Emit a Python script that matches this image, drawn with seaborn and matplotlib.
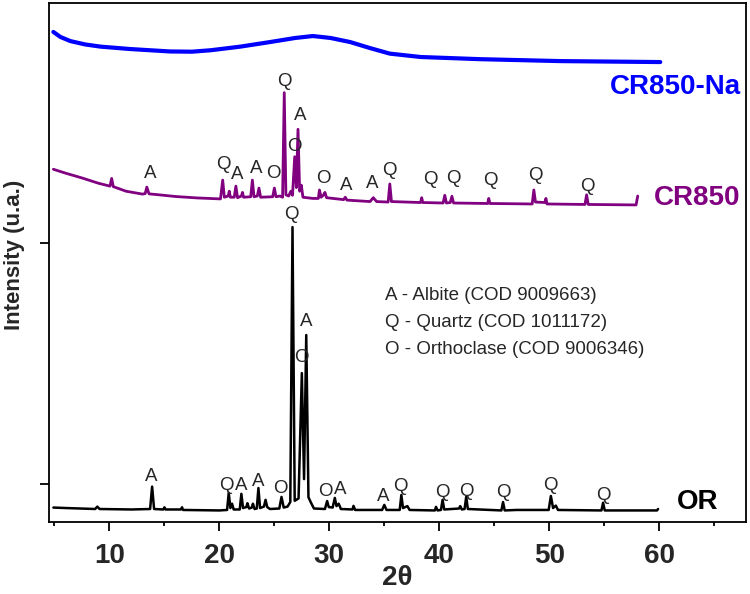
import numpy as np
import pandas as pd
import seaborn as sns
import matplotlib.pyplot as plt

# XRD patterns (2theta, intensity in offset units)
or_theta = [4.9, 6.0, 8.7, 8.9, 9.1, 12.0, 13.7, 13.88, 14.06, 14.9, 15.0, 15.1,
            16.5, 16.6, 16.7, 20.0, 20.7, 20.85, 21.0, 21.15, 21.3, 21.85, 22.0,
            22.15, 22.45, 22.55, 22.7, 22.95, 23.05, 23.2, 23.4, 23.55, 23.7, 24.05,
            24.2, 24.35, 24.6, 25.45, 25.65, 25.85, 26.2, 26.45, 26.65, 26.85, 27.2,
            27.5, 27.7, 27.9, 28.1, 28.3, 28.6, 29.6, 29.8, 29.95, 30.3, 30.5, 30.65,
            30.85, 31.05, 32.1, 32.2, 32.35, 34.8, 35.0, 35.2, 36.4, 36.55, 36.7,
            37.1, 37.3, 39.6, 39.7, 39.85, 40.15, 40.3, 40.45, 41.8, 41.9, 42.05,
            42.3, 42.45, 42.6, 45.65, 45.8, 45.95, 47.0, 49.95, 50.15, 50.35, 50.6,
            50.8, 54.75, 54.9, 55.05, 59.8, 59.9]
or_int = [-0.098, -0.100, -0.104, -0.094, -0.104, -0.106, -0.104, -0.011, -0.104,
          -0.106, -0.097, -0.106, -0.106, -0.097, -0.108, -0.110, -0.108, -0.037,
          -0.100, -0.082, -0.106, -0.106, -0.041, -0.100, -0.096, -0.080, -0.102,
          -0.098, -0.082, -0.104, -0.102, -0.017, -0.100, -0.094, -0.066, -0.096,
          -0.104, -0.102, -0.054, -0.098, -0.094, -0.075, 1.066, -0.070, -0.060,
          0.460, 0.020, 0.618, -0.055, -0.075, -0.102, -0.104, -0.071, -0.096,
          -0.098, -0.058, -0.092, -0.082, -0.104, -0.106, -0.091, -0.108, -0.108,
          -0.087, -0.108, -0.108, -0.046, -0.100, -0.092, -0.108, -0.110, -0.095,
          -0.110, -0.108, -0.066, -0.106, -0.102, -0.092, -0.106, -0.104, -0.054,
          -0.104, -0.110, -0.075, -0.110, -0.108, -0.108, -0.050, -0.100, -0.090,
          -0.108, -0.110, -0.078, -0.110, -0.110, -0.104]

cr_theta = [4.9, 6.0, 7.5, 9.0, 10.05, 10.2, 10.35, 11.5, 13.0, 13.25, 13.4, 13.6,
            14.5, 16.0, 18.0, 20.1, 20.3, 20.45, 20.8, 20.9, 21.0, 21.35, 21.5,
            21.65, 22.0, 22.1, 22.2, 22.85, 23.0, 23.15, 23.45, 23.6, 23.75, 24.85,
            25.0, 25.15, 25.5, 25.75, 25.9, 26.05, 26.3, 26.5, 26.65, 26.85, 27.0,
            27.15, 27.3, 27.45, 27.6, 28.5, 29.0, 29.1, 29.25, 29.45, 29.6, 29.75,
            31.3, 31.45, 31.6, 33.7, 34.0, 34.3, 35.35, 35.5, 35.65, 38.3, 38.4,
            38.5, 40.35, 40.5, 40.65, 41.0, 41.15, 41.3, 44.4, 44.5, 44.6, 48.45,
            48.6, 48.75, 49.6, 49.7, 49.8, 53.25, 53.4, 53.55, 57.9, 58.05]
cr_int = [1.306, 1.290, 1.270, 1.248, 1.236, 1.268, 1.234, 1.215, 1.203, 1.205,
          1.232, 1.204, 1.200, 1.193, 1.187, 1.183, 1.261, 1.190, 1.195, 1.215,
          1.190, 1.190, 1.236, 1.188, 1.195, 1.210, 1.190, 1.192, 1.261, 1.192,
          1.195, 1.228, 1.190, 1.192, 1.228, 1.192, 1.195, 1.190, 1.624, 1.200,
          1.195, 1.215, 1.198, 1.358, 1.230, 1.472, 1.215, 1.240, 1.190, 1.185,
          1.185, 1.220, 1.190, 1.198, 1.210, 1.188, 1.180, 1.190, 1.178, 1.172,
          1.188, 1.172, 1.170, 1.245, 1.172, 1.168, 1.188, 1.168, 1.166, 1.198,
          1.166, 1.168, 1.194, 1.166, 1.164, 1.185, 1.164, 1.162, 1.220, 1.170,
          1.168, 1.185, 1.162, 1.160, 1.200, 1.160, 1.158, 1.195]

na_theta = [4.9, 5.55, 6.45, 7.8, 9.2, 11.9, 15.5, 17.5, 19.2, 21.9, 24.6, 26.9,
            28.5, 30.1, 31.9, 33.7, 35.5, 38.3, 43.7, 51.0, 60.1]
na_int = [1.876, 1.855, 1.838, 1.824, 1.815, 1.805, 1.795, 1.794, 1.800, 1.815,
          1.834, 1.851, 1.859, 1.851, 1.834, 1.809, 1.786, 1.772, 1.763, 1.755,
          1.751]

# phase labels (letter, 2theta, height)
or_lab = ["A", "Q", "A", "A", "O", "Q", "A", "O", "O", "A", "A", "Q", "Q", "Q", "Q", "Q", "Q"]
or_lab_x = [13.82, 20.64, 22.0, 23.55, 25.55, 26.55, 27.9, 27.5, 29.6, 31.0, 34.9,
            36.45, 40.25, 42.45, 45.8, 50.1, 54.9]
or_lab_y = [0.029, -0.008, -0.008, 0.012, -0.017, 1.120, 0.676, 0.523, -0.033,
            -0.025, -0.054, -0.012, -0.037, -0.032, -0.037, -0.008, -0.046]

cr_lab = ["A", "Q", "A", "A", "O", "Q", "A", "O", "O", "A", "A", "Q", "Q", "Q", "Q", "Q", "Q"]
cr_lab_x = [13.73, 20.33, 21.6, 23.36, 24.94, 25.94, 27.36, 26.82, 29.48, 31.55,
            33.88, 35.48, 39.18, 41.3, 44.64, 48.73, 53.43]
cr_lab_y = [1.289, 1.324, 1.286, 1.310, 1.289, 1.669, 1.531, 1.400, 1.268, 1.237,
            1.248, 1.300, 1.264, 1.268, 1.261, 1.279, 1.234]

phases = ["A - Albite (COD 9009663)",
          "Q - Quartz (COD 1011172)",
          "O - Orthoclase (COD 9006346)"]

sns.set_theme(style="ticks")
plt.rcParams["font.family"] = ["Liberation Sans", "DejaVu Sans"]

fig = plt.figure(figsize=(7.5, 5.94), dpi=100)
ax = fig.add_axes([0.0653, 0.1212, 0.9294, 0.8737])

sns.lineplot(x=or_theta, y=or_int, ax=ax, color="black", lw=1.8,
             estimator=None, sort=False)
sns.lineplot(x=cr_theta, y=cr_int, ax=ax, color="#800080", lw=2.0,
             estimator=None, sort=False)
sns.lineplot(x=na_theta, y=na_int, ax=ax, color="#0000ff", lw=3.0,
             estimator=None, sort=False)

for s, x, y in zip(or_lab, or_lab_x, or_lab_y):
    ax.text(x, y, s, ha="center", va="center", fontsize=13.5)
for s, x, y in zip(cr_lab, cr_lab_x, cr_lab_y):
    ax.text(x, y, s, ha="center", va="center", fontsize=13.5)

for i, s in enumerate(phases):
    ax.text(35.1, 0.784 - 0.112 * i, s, ha="left", va="center", fontsize=13.5)

ax.text(67.4, 1.647, "CR850-Na", color="#0000ff", ha="right", va="center",
        fontsize=20, fontweight="bold")
ax.text(67.4, 1.187, "CR850", color="#800080", ha="right", va="center",
        fontsize=20, fontweight="bold")
ax.text(65.4, -0.075, "OR", color="black", ha="right", va="center",
        fontsize=20, fontweight="bold")

ax.set_xlim(4.5, 67.9)
ax.set_ylim(-0.158, 1.996)
ax.set_xticks(range(10, 61, 10))
ax.set_xticks(range(5, 66, 10), minor=True)
ax.set_yticks([0, 1])
ax.set_yticklabels([])
ax.tick_params(axis="both", which="major", direction="out", length=6.5,
               width=1.3, color="black", labelsize=20, pad=8.5)
ax.tick_params(axis="x", which="minor", direction="out", length=3,
               width=1.3, color="black")
for lab in ax.get_xticklabels():
    lab.set_fontweight("bold")

for sp in ax.spines.values():
    sp.set_color("black")
    sp.set_linewidth(1.3)

ax.set_xlabel("2θ", fontsize=20, fontweight="bold")
ax.set_ylabel("Intensity (u.a.)", fontsize=16, fontweight="bold")
ax.xaxis.set_label_coords(0.5, -0.083)
ax.yaxis.set_label_coords(-0.034, 0.515)

fig.savefig("out.png", dpi=100)
